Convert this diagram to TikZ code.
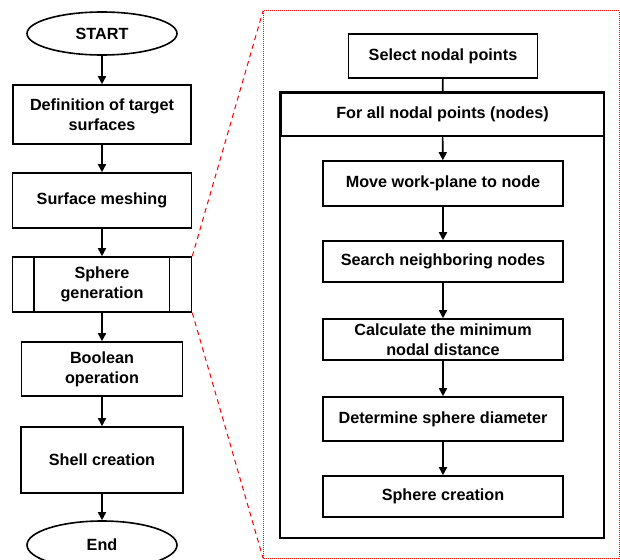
\documentclass[tikz,border=0pt]{standalone}
\usepackage{fontspec}
\setmainfont{Liberation Sans}
\usetikzlibrary{positioning,arrows.meta,shapes.geometric}

\tikzset{
  box/.style={draw, line width=1.6pt, rectangle, align=center, inner sep=0pt,
    font=\fontsize{16.2}{20}\selectfont\bfseries},
  term/.style={box, ellipse},
  arr/.style={line width=1.6pt, -{Triangle[length=8pt,width=8pt]}},
  zoomline/.style={red, line width=1pt, dash pattern=on 5pt off 4pt},
}

\begin{document}
\begin{tikzpicture}[x=1pt,y=-1pt, line join=miter]
\useasboundingbox (0,0) rectangle (620,559);
\clip (0,0) rectangle (620,559);

% main flow
\node[term, minimum width=150, minimum height=43] (start) at (102,33.5) {START};
\node[box, minimum width=178, minimum height=59] (def) at (102,114.5) {Definition of target\\surfaces};
\node[box, minimum width=179, minimum height=55] (mesh) at (102,200.5) {Surface meshing};
\node[box, minimum width=179, minimum height=55] (sph) at (102,284.5) {Sphere\\generation};
\node[box, minimum width=161, minimum height=54] (bool) at (102,369) {Boolean\\operation};
\node[box, minimum width=162, minimum height=66] (shell) at (102,460) {Shell creation};
\node[term, minimum width=150, minimum height=48] (end) at (102,545) {End};

% side bars of the predefined process
\draw[line width=1.6pt] ([xshift=22pt]sph.north west) -- ([xshift=22pt]sph.south west);
\draw[line width=1.6pt] ([xshift=-23pt]sph.north east) -- ([xshift=-23pt]sph.south east);

\draw[arr] (start) -- (def);
\draw[arr] (def) -- (mesh);
\draw[arr] (mesh) -- (sph);
\draw[arr] (sph) -- (bool);
\draw[arr] (bool) -- (shell);
\draw[arr] (shell) -- (end);

% detail frame
\coordinate (ftl) at (263,11);
\coordinate (fbr) at (619,558);
\draw[red, line width=1pt, densely dotted] (ftl) rectangle (fbr);
\coordinate (fbl) at (263,558);
\draw[zoomline] (sph.north east) -- (ftl);
\draw[zoomline] (sph.south east) -- (fbl);

% sub-procedure
\node[box, minimum width=189, minimum height=44] (sel) at (443,56) {Select nodal points};
\node[box, minimum width=323, minimum height=43] (hdr) at (442.5,114.5) {For all nodal points (nodes)};
\coordinate (loopend) at (604,538);
\draw[line width=1.6pt] (hdr.north west) rectangle (loopend);

\node[box, minimum width=240, minimum height=45] (move) at (443,183.5) {Move work-plane to node};
\node[box, minimum width=240, minimum height=41] (search) at (443,261.5) {Search neighboring nodes};
\node[box, minimum width=240, minimum height=41] (calc) at (443,339.5) {Calculate the minimum\\nodal distance};
\node[box, minimum width=240, minimum height=44] (det) at (443,419) {Determine sphere diameter};
\node[box, minimum width=240, minimum height=41] (crt) at (443,496.5) {Sphere creation};

\draw[line width=1.6pt] (sel) -- (hdr);
\draw[arr] (hdr) -- (move);
\draw[arr] (move) -- (search);
\draw[arr] (search) -- (calc);
\draw[arr] (calc) -- (det);
\draw[arr] (det) -- (crt);
\end{tikzpicture}
\end{document}
